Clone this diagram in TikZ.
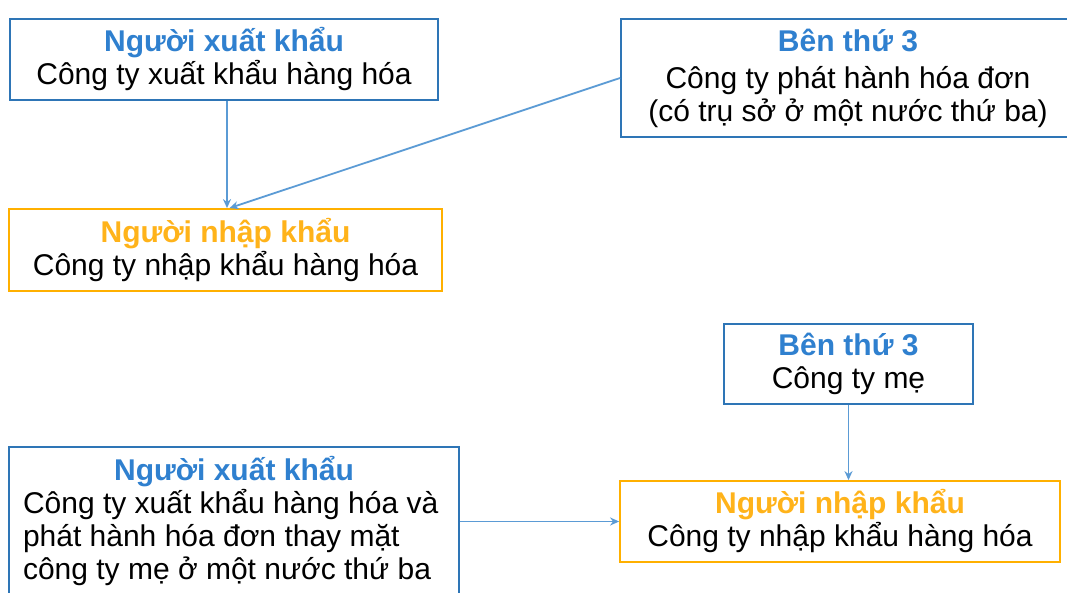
\documentclass[tikz,border=0pt]{standalone}
\usepackage{fontspec}
\setmainfont{Liberation Sans}
\usetikzlibrary{arrows.meta}
\definecolor{bluebd}{HTML}{2E75B6}
\definecolor{tblue}{HTML}{2F80CF}
\definecolor{orangebd}{HTML}{FFB000}
\definecolor{torange}{HTML}{FFB31A}
\definecolor{arrowc}{HTML}{5B9BD5}
\newcommand{\tbl}[1]{\textcolor{tblue}{\bfseries #1}}
\newcommand{\tor}[1]{\textcolor{torange}{\bfseries #1}}
\tikzset{
  boxbase/.style={line width=1.8pt, inner sep=0pt, align=center, font=\fontsize{30}{33}\selectfont, text=black},
  bluebox/.style={boxbase, draw=bluebd},
  orangebox/.style={boxbase, draw=orangebd},
  conn/.style={draw=arrowc, line width=1.8pt, -{Stealth[length=9pt,width=8pt]}}
}
\begin{document}
\begin{tikzpicture}[x=1pt,y=-1pt]
\useasboundingbox (0,0) rectangle (1067,593);
\clip (0,0) rectangle (1067,593);
\fill[white] (0,0) rectangle (1067,593);

\node[bluebox, minimum width=428pt, minimum height=81pt] (b1) at (224,59.5)
  {\tbl{Người xuất khẩu}\\Công ty xuất khẩu hàng hóa};
\node[bluebox, minimum width=454pt, minimum height=118pt] (b2) at (848,78)
  {\tbl{Bên thứ 3}\\[4pt]Công ty phát hành hóa đơn\\(có trụ sở ở một nước thứ ba)};
\node[orangebox, minimum width=433pt, minimum height=82pt] (b3) at (225.5,250)
  {\tor{Người nhập khẩu}\\Công ty nhập khẩu hàng hóa};
\node[bluebox, minimum width=249pt, minimum height=80pt] (b4) at (848.5,364)
  {\tbl{Bên thứ 3}\\Công ty mẹ};
\node[bluebox, minimum width=450pt, minimum height=148pt, inner xsep=14pt, align=left] (b5) at (234,521)
  {\makebox[422pt][c]{\tbl{Người xuất khẩu}}\\Công ty xuất khẩu hàng hóa và\\phát hành hóa đơn thay mặt\\công ty mẹ ở một nước thứ ba};
\node[orangebox, minimum width=440pt, minimum height=81pt] (b6) at (840,521.5)
  {\tor{Người nhập khẩu}\\Công ty nhập khẩu hàng hóa};

\draw[conn] ([xshift=3pt]b1.south) -- ([xshift=3pt]b1.south |- b3.north);
\draw[conn] (b2.west) -- ([xshift=4pt]b3.north);
\draw[conn] (b4.south) -- (b4.south |- b6.north);
\draw[conn] (b5.east |- b6.west) -- (b6.west);
\end{tikzpicture}
\end{document}
